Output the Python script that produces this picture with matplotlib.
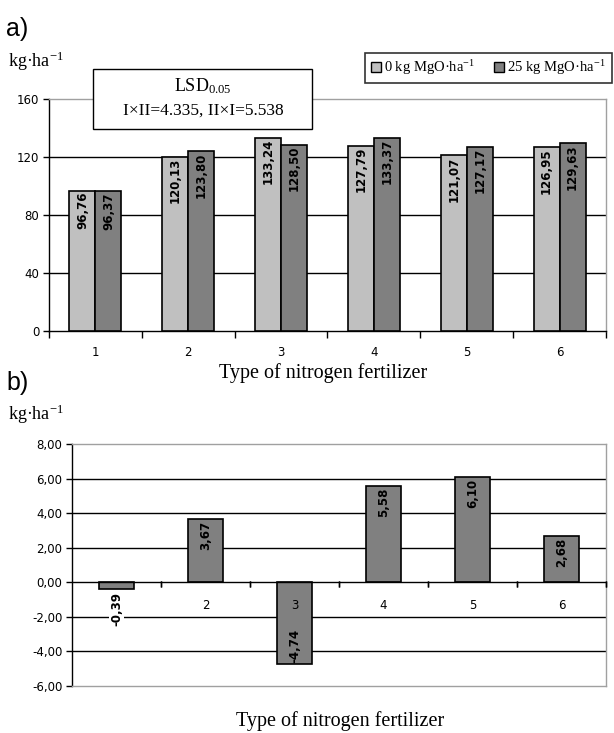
import matplotlib
matplotlib.use("Agg")
import matplotlib.pyplot as plt
from matplotlib.patches import Rectangle, Patch
from matplotlib.transforms import offset_copy
import numpy as np

plt.rcParams['mathtext.fontset'] = 'custom'
plt.rcParams['mathtext.rm'] = 'Liberation Serif'
plt.rcParams['mathtext.it'] = 'Liberation Serif:italic'
plt.rcParams['mathtext.bf'] = 'Liberation Serif:bold'

SANS = 'DejaVu Sans'
SERIF = 'Liberation Serif'

# Data
fertilizer_types = ['1', '2', '3', '4', '5', '6']
yield_mgo0 = [96.76, 120.13, 133.24, 127.79, 121.07, 126.95]
yield_mgo25 = [96.37, 123.80, 128.50, 133.37, 127.17, 129.63]
difference = [-0.39, 3.67, -4.74, 5.58, 6.10, 2.68]
top_yticks = [0, 40, 80, 120, 160]
bottom_yticks = [-6, -4, -2, 0, 2, 4, 6, 8]
series_labels = ['0 kg MgO·ha$^{\\mathregular{-1}}$', '25 kg MgO·ha$^{\\mathregular{-1}}$']
lsd_text = 'I×II=4.335, II×I=5.538'
xlabel = 'Type of nitrogen fertilizer'

LIGHT = '#c0c0c0'
DARK = '#808080'
BORDER = '#a0a0a0'
TICK_FS = 8.5
VAL_FS = 8.5


def fmt(v):
    return f'{v:.2f}'.replace('.', ',')


W, H = 614, 733
fig = plt.figure(figsize=(W / 100, H / 100), dpi=100)


def fig_axes(l, t, r, b):
    return fig.add_axes([l / W, 1 - b / H, (r - l) / W, (b - t) / H])


def value_label(ax, xi, y, v, va, **kw):
    ax.text(xi, y, fmt(v), rotation=90, ha='center', va=va, fontsize=VAL_FS,
            fontweight='bold', family=SANS, zorder=6, **kw)


x = np.arange(1, len(fertilizer_types) + 1)

# ---------- panel a ----------
ax1 = fig_axes(49, 99, 606, 331)
bw = 0.28
ax1.bar(x - bw / 2, yield_mgo0, bw, color=LIGHT, edgecolor='black', linewidth=1.2, zorder=3)
ax1.bar(x + bw / 2, yield_mgo25, bw, color=DARK, edgecolor='black', linewidth=1.2, zorder=3)
for xi, v in zip(x - bw / 2, yield_mgo0):
    value_label(ax1, xi, v - 0.8, v, 'top')
for xi, v in zip(x + bw / 2, yield_mgo25):
    value_label(ax1, xi, v - 0.8, v, 'top')

ax1.set_xlim(0.5, len(x) + 0.5)
ax1.set_ylim(0, 160)
ax1.set_yticks(top_yticks)
ax1.set_yticklabels([str(t) for t in top_yticks], family=SANS, fontsize=TICK_FS)
for t in top_yticks[1:-1]:
    ax1.axhline(t, color='black', linewidth=1.0, zorder=1)
ax1.set_xticks(np.arange(0.5, len(x) + 1, 1.0))
ax1.set_xticklabels([])
ax1.tick_params(axis='x', direction='out', length=5, width=1.0, color='black')
ax1.tick_params(axis='y', direction='out', length=4, width=1.0, color='black', pad=3)
for xi, lab in zip(x, fertilizer_types):
    ax1.text(xi, 0, lab, ha='center', va='center', family=SANS, fontsize=TICK_FS,
             transform=offset_copy(ax1.transData, fig=fig, x=0, y=-22, units='dots'))
for s in ('top', 'right'):
    ax1.spines[s].set_color(BORDER)
    ax1.spines[s].set_linewidth(1.0)
for s in ('left', 'bottom'):
    ax1.spines[s].set_color('black')
    ax1.spines[s].set_linewidth(1.0)

fig.text(323 / W, 1 - 373 / H, xlabel, ha='center', va='center', family=SERIF, fontsize=14.5)
fig.text(6 / W, 1 - 29 / H, 'a)', ha='left', va='center', family='Liberation Sans', fontsize=18)
fig.text(8 / W, 1 - 61 / H, 'kg·ha$^{\\mathregular{-1}}$', ha='left', va='center',
         family=SERIF, fontsize=13)

# LSD box
fig.add_artist(Rectangle((93 / W, 1 - 129 / H), (312 - 93) / W, (129 - 69) / H,
                         transform=fig.transFigure, facecolor='white', edgecolor='black',
                         linewidth=1.0, zorder=5))
fig.text(203 / W, 1 - 86 / H, 'LSD$_{\\mathregular{0.05}}$', ha='center', va='center',
         family=SERIF, fontsize=13, zorder=6)
fig.text(203 / W, 1 - 111 / H, lsd_text, ha='center', va='center',
         family=SERIF, fontsize=12.5, zorder=6)

# Legend
handles = [Patch(facecolor=LIGHT, edgecolor='black', linewidth=1.0),
           Patch(facecolor=DARK, edgecolor='black', linewidth=1.0)]
leg = fig.legend(handles, series_labels, loc='center', ncol=2,
                 bbox_to_anchor=((366 + 611) / 2 / W, 1 - 68 / H),
                 prop={'family': SERIF, 'size': 10.5}, frameon=True, fancybox=False,
                 handlelength=0.65, handleheight=0.65, handletextpad=0.25,
                 columnspacing=1.3, borderpad=0.4, borderaxespad=0)
leg.get_frame().set_edgecolor('black')
leg.get_frame().set_linewidth(1.2)

# ---------- panel b ----------
ax2 = fig_axes(72, 444, 606, 686)
bw2 = 0.39
ax2.bar(x, difference, bw2, color=DARK, edgecolor='black', linewidth=1.2, zorder=3)
for xi, v in zip(x, difference):
    if v >= 0:
        value_label(ax2, xi, v - 0.1, v, 'top')
    elif abs(v) < 1.0:
        # too short to hold its label: place it just below the bar
        value_label(ax2, xi, v - 0.15, v, 'top',
                    bbox=dict(facecolor='white', edgecolor='none', pad=0.5))
    else:
        value_label(ax2, xi, v + 0.05, v, 'bottom')

ax2.set_xlim(0.5, len(x) + 0.5)
ax2.set_ylim(-6, 8)
ax2.set_yticks(bottom_yticks)
ax2.set_yticklabels([fmt(t) for t in bottom_yticks], family=SANS, fontsize=TICK_FS)
for t in bottom_yticks:
    if t not in (0, -6, 8):
        ax2.axhline(t, color='black', linewidth=1.0, zorder=1)
ax2.axhline(0, color='black', linewidth=1.0, zorder=3.5)
ax2.set_xticks([])
ax2.tick_params(axis='y', direction='out', length=4, width=1.0, color='black', pad=3)
for xb in np.arange(1.5, len(x) + 0.6, 1.0):
    ax2.plot([xb, xb], [0, 0], marker='|', markersize=5, color='black',
             transform=offset_copy(ax2.transData, fig=fig, x=0, y=-2, units='dots'),
             clip_on=False, zorder=3.5)
for xi, lab in zip(x, fertilizer_types):
    ax2.text(xi, 0, lab, ha='center', va='center', family=SANS, fontsize=TICK_FS, zorder=5,
             transform=offset_copy(ax2.transData, fig=fig, x=0, y=-23, units='dots'))
for s in ('top', 'right', 'bottom'):
    ax2.spines[s].set_color(BORDER)
    ax2.spines[s].set_linewidth(1.0)
ax2.spines['left'].set_color('black')
ax2.spines['left'].set_linewidth(1.0)

fig.text(340 / W, 1 - 721 / H, xlabel, ha='center', va='center', family=SERIF, fontsize=14.5)
fig.text(6 / W, 1 - 383 / H, 'b)', ha='left', va='center', family='Liberation Sans', fontsize=18)
fig.text(8 / W, 1 - 414 / H, 'kg·ha$^{\\mathregular{-1}}$', ha='left', va='center',
         family=SERIF, fontsize=13)

fig.savefig('out.png', dpi=100)
